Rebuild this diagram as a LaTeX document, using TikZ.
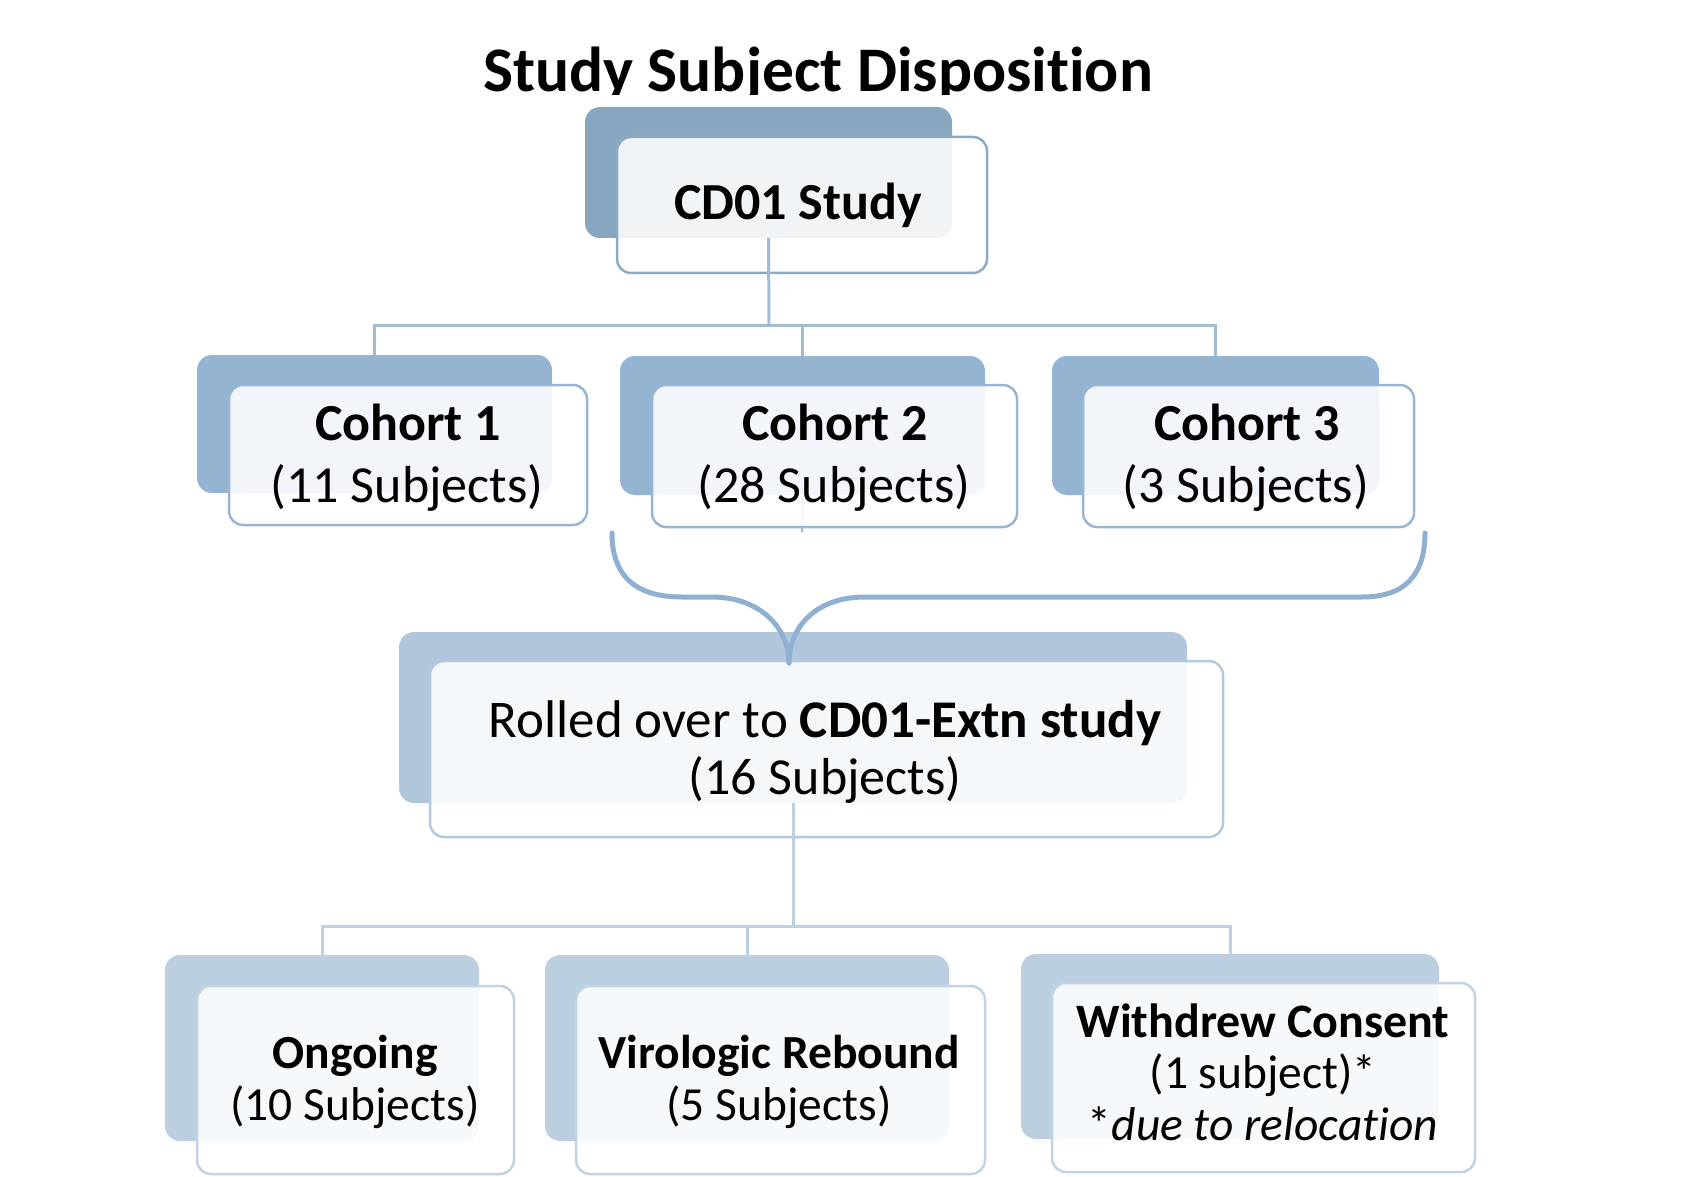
\documentclass[tikz,border=0pt]{standalone}
\usepackage{fontspec}
\setmainfont[Ligatures={NoCommon}]{Carlito}
\usetikzlibrary{fit}
\definecolor{bkA}{HTML}{87A6C0}
\definecolor{frA}{HTML}{8DAAC5}
\definecolor{bkB}{HTML}{95B4D2}
\definecolor{frB}{HTML}{98B6D3}
\definecolor{bkC}{HTML}{B0C6DB}
\definecolor{frC}{HTML}{B3C8DC}
\definecolor{bkD}{HTML}{BCCFE1}
\definecolor{frD}{HTML}{C0D2E4}
\definecolor{lnA}{HTML}{A2BBD4}
\definecolor{lnB}{HTML}{BDD0E2}
\definecolor{brc}{HTML}{8FB0D0}
\begin{document}
\begin{tikzpicture}[x=1pt,y=-1pt,
  bkbox/.style={inner sep=0pt, rounded corners=15pt, fill=#1},
  frbox/.style={inner sep=0pt, rounded corners=14pt, draw=#1, line width=2.5pt, fill=white, fill opacity=0.88},
  connA/.style={draw=lnA, line width=3pt},
  connB/.style={draw=lnB, line width=3pt},
  txtbig/.style={inner sep=0pt, anchor=base, font=\fontsize{52}{60}\selectfont},
  txtsm/.style={inner sep=0pt, anchor=base, font=\fontsize{47.5}{56}\selectfont}
]
\useasboundingbox (0,0) rectangle (1706,1177);

% title (clipped at the bottom as in the reference)
\begin{scope}
  \clip (0,0) rectangle (1706,95);
  \node[inner sep=0pt, anchor=base, font=\bfseries\fontsize{63.5}{70}\selectfont] (title) at (818,92) {Study Subject Disposition};
\end{scope}

% back rectangles
\node[bkbox=bkA, fit={(585,107) (952,238)}] (s0b) {};
\node[bkbox=bkB, fit={(197,355) (552,493)}] (c1b) {};
\node[bkbox=bkB, fit={(620,356) (985,495)}] (c2b) {};
\node[bkbox=bkB, fit={(1052,356) (1379,495)}] (c3b) {};
\node[bkbox=bkC, fit={(399,632) (1187,803)}] (eb) {};
\node[bkbox=bkD, fit={(165,955) (479,1141)}] (ob) {};
\node[bkbox=bkD, fit={(545,955) (949,1141)}] (vb) {};
\node[bkbox=bkD, fit={(1021,954) (1439,1139)}] (wb) {};

% faint tick through cohort 2
\coordinate (c2tick) at (802,532);
\draw[connA, line width=2pt] (c2b.south) -- (c2tick);

% front rectangles
\node[frbox=frA, fit={(617,137) (987,273)}] (s0f) {};
\node[frbox=frB, fit={(229,385) (587,525)}] (c1f) {};
\node[frbox=frB, fit={(652,385) (1017,527)}] (c2f) {};
\node[frbox=frB, fit={(1083,385) (1414,527)}] (c3f) {};
\node[frbox=frC, fit={(430,661) (1223,837)}] (ef) {};
\node[frbox=frD, fit={(197,986) (514,1174)}] (of) {};
\node[frbox=frD, fit={(576,986) (985,1174)}] (vf) {};
\node[frbox=frD, fit={(1052,983) (1475,1172)}] (wf) {};

% connectors top
\coordinate (j0) at (769,325);
\draw[connA] (s0b.south) -- (j0);
\draw[connA] (c1b.north) |- (j0) -| (c3b.north);
\draw[connA] (c2b.north) -- (c2b.north |- j0);

% connectors bottom
\coordinate (j1) at (793,926);
\draw[connB] (eb.south) -- (j1);
\draw[connB] (ob.north) |- (j1) -| (wb.north);
\draw[connB] (vb.north) -- (vb.north |- j1);

% brace
\coordinate (brL) at (612,533);
\coordinate (brR) at (1425,533);
\coordinate (brT) at (789,663);
\draw[brc, line width=5pt, line cap=round]
  (brL) .. controls (612,580) and (640,597) .. (682,597) -- (712,597)
  .. controls (760,597) and (789,628) .. (brT);
\draw[brc, line width=5pt, line cap=round]
  (brT) .. controls (789,628) and (815,597) .. (865,597) -- (1362,597)
  .. controls (1405,597) and (1425,575) .. (brR);

% texts
\node[txtbig, font=\bfseries\fontsize{52}{60}\selectfont] (t0) at (798,220) {CD01 Study};

\node[txtbig, font=\bfseries\fontsize{52}{60}\selectfont] (t1a) at (408,440) {Cohort 1};
\node[txtbig] (t1b) at (407,502) {(11 Subjects)};
\node[txtbig, font=\bfseries\fontsize{52}{60}\selectfont] (t2a) at (835,440) {Cohort 2};
\node[txtbig] (t2b) at (834,502) {(28 Subjects)};
\node[txtbig, font=\bfseries\fontsize{52}{60}\selectfont] (t3a) at (1247,440) {Cohort 3};
\node[txtbig] (t3b) at (1246,502) {(3 Subjects)};

\node[txtbig, font=\fontsize{53}{60}\selectfont] (tea) at (825,737) {Rolled over to \textbf{CD01-Extn study}};
\node[txtbig] (teb) at (825,794) {(16 Subjects)};

\node[txtsm, font=\bfseries\fontsize{47.5}{56}\selectfont] (toa) at (355,1068) {Ongoing};
\node[txtsm] (tob) at (355,1120) {(10 Subjects)};
\node[txtsm, font=\bfseries\fontsize{47.5}{56}\selectfont] (tva) at (779,1068) {Virologic Rebound};
\node[txtsm] (tvb) at (779,1120) {(5 Subjects)};
\node[txtsm, font=\bfseries\fontsize{48}{56}\selectfont] (twa) at (1263,1037) {Withdrew Consent};
\node[txtsm] (twb) at (1263,1088) {(1 subject)*};
\node[txtsm] (twc) at (1263,1140) {*\textit{due to relocation}};
\end{tikzpicture}
\end{document}
